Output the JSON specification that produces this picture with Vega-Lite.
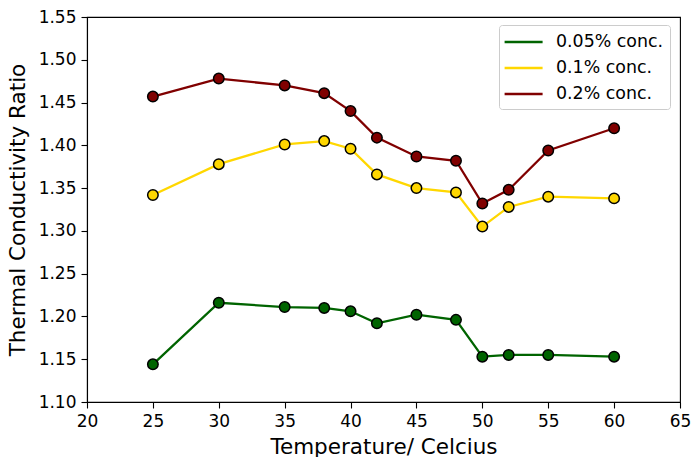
{
  "$schema": "https://vega.github.io/schema/vega-lite/v6.json",
  "width": 593,
  "height": 385,
  "autosize": "none",
  "padding": {"left": 87, "top": 17, "right": 11, "bottom": 55},
  "background": "white",
  "config": {
    "font": "DejaVu Sans",
    "view": {"stroke": "black", "strokeWidth": 1.1},
    "axis": {
      "grid": false,
      "domainColor": "black",
      "domainWidth": 1.1,
      "tickColor": "black",
      "tickWidth": 1.1,
      "tickSize": 6,
      "labelFont": "DejaVu Sans",
      "labelFontSize": 17,
      "labelColor": "black",
      "labelPadding": 5,
      "labelFlush": false,
      "titleFont": "DejaVu Sans",
      "titleFontSize": 21.5,
      "titleFontWeight": "normal",
      "titleColor": "black"
    },
    "legend": {
      "labelFont": "DejaVu Sans",
      "labelFontSize": 17.4,
      "labelColor": "black"
    }
  },
  "data": {
    "values": [
      {"T": 25, "ratio": 1.144, "conc": "0.05% conc."},
      {"T": 30, "ratio": 1.216, "conc": "0.05% conc."},
      {"T": 35, "ratio": 1.211, "conc": "0.05% conc."},
      {"T": 38, "ratio": 1.210, "conc": "0.05% conc."},
      {"T": 40, "ratio": 1.206, "conc": "0.05% conc."},
      {"T": 42, "ratio": 1.192, "conc": "0.05% conc."},
      {"T": 45, "ratio": 1.202, "conc": "0.05% conc."},
      {"T": 48, "ratio": 1.196, "conc": "0.05% conc."},
      {"T": 50, "ratio": 1.153, "conc": "0.05% conc."},
      {"T": 52, "ratio": 1.155, "conc": "0.05% conc."},
      {"T": 55, "ratio": 1.155, "conc": "0.05% conc."},
      {"T": 60, "ratio": 1.153, "conc": "0.05% conc."},
      {"T": 25, "ratio": 1.342, "conc": "0.1% conc."},
      {"T": 30, "ratio": 1.378, "conc": "0.1% conc."},
      {"T": 35, "ratio": 1.401, "conc": "0.1% conc."},
      {"T": 38, "ratio": 1.405, "conc": "0.1% conc."},
      {"T": 40, "ratio": 1.396, "conc": "0.1% conc."},
      {"T": 42, "ratio": 1.366, "conc": "0.1% conc."},
      {"T": 45, "ratio": 1.350, "conc": "0.1% conc."},
      {"T": 48, "ratio": 1.345, "conc": "0.1% conc."},
      {"T": 50, "ratio": 1.305, "conc": "0.1% conc."},
      {"T": 52, "ratio": 1.328, "conc": "0.1% conc."},
      {"T": 55, "ratio": 1.340, "conc": "0.1% conc."},
      {"T": 60, "ratio": 1.338, "conc": "0.1% conc."},
      {"T": 25, "ratio": 1.457, "conc": "0.2% conc."},
      {"T": 30, "ratio": 1.478, "conc": "0.2% conc."},
      {"T": 35, "ratio": 1.470, "conc": "0.2% conc."},
      {"T": 38, "ratio": 1.461, "conc": "0.2% conc."},
      {"T": 40, "ratio": 1.440, "conc": "0.2% conc."},
      {"T": 42, "ratio": 1.409, "conc": "0.2% conc."},
      {"T": 45, "ratio": 1.387, "conc": "0.2% conc."},
      {"T": 48, "ratio": 1.382, "conc": "0.2% conc."},
      {"T": 50, "ratio": 1.332, "conc": "0.2% conc."},
      {"T": 52, "ratio": 1.348, "conc": "0.2% conc."},
      {"T": 55, "ratio": 1.394, "conc": "0.2% conc."},
      {"T": 60, "ratio": 1.420, "conc": "0.2% conc."}
    ]
  },
  "encoding": {
    "x": {
      "field": "T",
      "type": "quantitative",
      "scale": {"domain": [20, 65], "nice": false, "zero": false},
      "axis": {"values": [20, 25, 30, 35, 40, 45, 50, 55, 60, 65], "title": "Temperature/ Celcius", "titlePadding": 7}
    },
    "y": {
      "field": "ratio",
      "type": "quantitative",
      "scale": {"domain": [1.10, 1.55], "nice": false, "zero": false},
      "axis": {"values": [1.10, 1.15, 1.20, 1.25, 1.30, 1.35, 1.40, 1.45, 1.50, 1.55], "format": ".2f", "title": "Thermal Conductivity Ratio", "titlePadding": 9}
    }
  },
  "layer": [
    {
      "mark": {"type": "line", "strokeWidth": 2.3},
      "encoding": {
        "color": {
          "field": "conc",
          "type": "nominal",
          "scale": {"domain": ["0.05% conc.", "0.1% conc.", "0.2% conc."], "range": ["#006400", "#FFD700", "#800000"]},
          "legend": {
            "title": null,
            "orient": "none",
            "legendX": 412,
            "legendY": 8,
            "symbolType": "M-1.2,0H2.8",
            "symbolSize": 361,
            "symbolStrokeWidth": 2.5,
            "symbolFillColor": "transparent",
            "labelOffset": 29,
            "rowPadding": 6,
            "padding": 6,
            "strokeColor": "#cccccc",
            "fillColor": "white",
            "cornerRadius": 3
          }
        }
      }
    },
    {
      "mark": {"type": "point", "filled": true, "size": 110, "stroke": "black", "strokeWidth": 1.5, "opacity": 1},
      "encoding": {
        "fill": {
          "field": "conc",
          "type": "nominal",
          "scale": {"domain": ["0.05% conc.", "0.1% conc.", "0.2% conc."], "range": ["#006400", "#FFD700", "#800000"]},
          "legend": null
        }
      }
    }
  ]
}
